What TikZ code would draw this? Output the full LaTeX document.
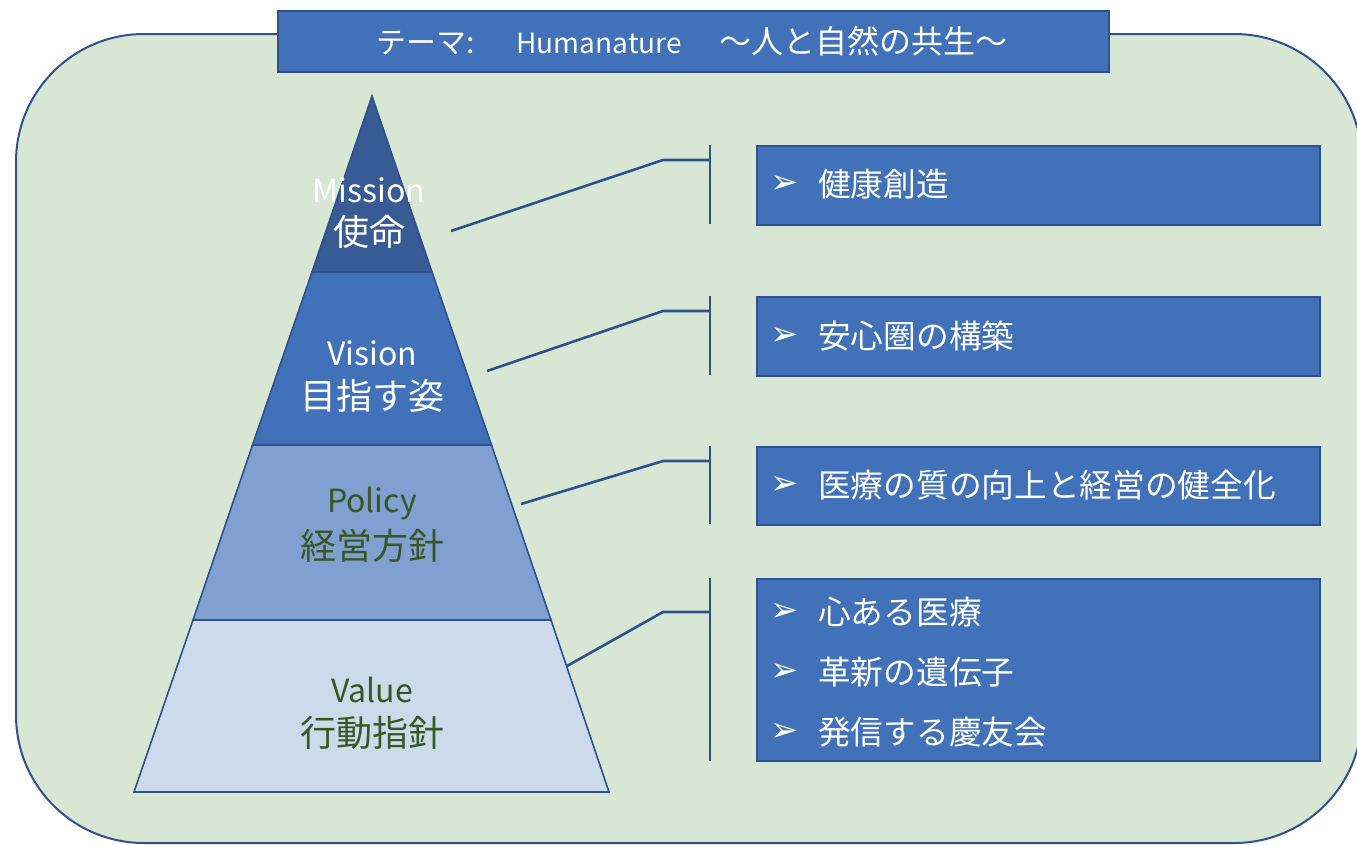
\documentclass[tikz,border=0pt]{standalone}
\usepackage{fontspec}
\setmainfont{Noto Sans CJK JP}
\newfontfamily\symfont{DejaVu Sans}
\definecolor{bgfill}{RGB}{216,231,211}
\definecolor{edge}{RGB}{47,82,143}
\definecolor{boxblue}{RGB}{64,113,185}
\definecolor{mission}{RGB}{56,91,150}
\definecolor{policy}{RGB}{128,160,209}
\definecolor{valuec}{RGB}{205,218,235}
\definecolor{darkgreen}{RGB}{56,87,35}
\newcommand{\jpl}{\fontsize{36}{40}\selectfont}
\newcommand{\lal}{\fontsize{32}{36}\selectfont}
\tikzset{
  lay/.style={draw=edge, line width=1.6pt, line join=miter},
  conn/.style={draw=edge, line width=2.6pt},
  bluebox/.style={draw=edge, line width=1.6pt, fill=boxblue},
  lbl/.style={inner sep=0pt},
  item/.style={inner sep=0pt, anchor=west, text=white, font=\fontsize{32.7}{36}\selectfont},
  bullet/.style={inner sep=0pt, text=white, font=\symfont\fontsize{34}{36}\selectfont},
}
\begin{document}
\begin{tikzpicture}[x=1pt,y=-1pt]
\useasboundingbox (0,0) rectangle (1357,844);
\begin{scope}
\clip (0,0) rectangle (1357,844);
\draw[fill=bgfill, draw=edge, line width=2pt, rounded corners=128pt] (16,34) rectangle (1362,843);
\end{scope}
% title
\node[bluebox, minimum width=831pt, minimum height=61pt, anchor=north west, inner sep=0pt] (title) at (277,10) {};
\node[text=white, inner sep=0pt, anchor=west, font=\fontsize{30}{32}\selectfont] (titletext) at (376,41) {テーマ:\hspace{42pt}{\fontsize{28}{32}\selectfont Humanature}\hspace{38pt}{\fontsize{32}{32}\selectfont ～人と自然の共生～}};
% pyramid
\coordinate (apex) at (372,96);
\coordinate (bl) at (134,792);
\coordinate (br) at (609,792);
\filldraw[lay, fill=valuec] (193,620) -- (551,620) -- (br) -- (bl) -- cycle;
\filldraw[lay, fill=policy] (252.5,445) -- (491.5,445) -- (551,620) -- (193,620) -- cycle;
\filldraw[lay, fill=boxblue] (312,272) -- (432,272) -- (491.5,445) -- (252.5,445) -- cycle;
\filldraw[lay, fill=mission] (apex) -- (432,272) -- (312,272) -- cycle;
% pyramid labels
\node[lbl, text=white, font=\lal] (mis1) at (369,190) {Mission};
\node[lbl, text=white, font=\jpl] (mis2) at (369,232) {使命};
\node[lbl, text=white, font=\lal] (vis1) at (372,353) {Vision};
\node[lbl, text=white, font=\jpl] (vis2) at (372,396) {目指す姿};
\node[lbl, text=darkgreen, font=\lal] (pol1) at (372,503) {Policy};
\node[lbl, text=darkgreen, font=\jpl] (pol2) at (372,546) {経営方針};
\node[lbl, text=darkgreen, font=\lal] (val1) at (372,690) {Value};
\node[lbl, text=darkgreen, font=\jpl] (val2) at (372,733) {行動指針};
% right boxes
\node[bluebox, anchor=north west, minimum width=563pt, minimum height=79pt, inner sep=0pt] (box1) at (756,145) {};
\node[bluebox, anchor=north west, minimum width=563pt, minimum height=79pt, inner sep=0pt] (box2) at (756,296) {};
\node[bluebox, anchor=north west, minimum width=563pt, minimum height=78pt, inner sep=0pt] (box3) at (756,446) {};
\node[bluebox, anchor=north west, minimum width=563pt, minimum height=182pt, inner sep=0pt] (box4) at (756,578) {};
\node[bullet] (b1) at (785,184) {➢};
\node[item] (t1) at (818,184) {健康創造};
\node[bullet] (b2) at (785,336) {➢};
\node[item] (t2) at (818,336) {安心圏の構築};
\node[bullet] (b3) at (785,485) {➢};
\node[item] (t3) at (818,485) {医療の質の向上と経営の健全化};
\node[bullet] (b4) at (785,612) {➢};
\node[item] (t4) at (818,612) {心ある医療};
\node[bullet] (b5) at (785,672) {➢};
\node[item] (t5) at (818,672) {革新の遺伝子};
\node[bullet] (b6) at (785,732) {➢};
\node[item] (t6) at (818,732) {発信する慶友会};
% connectors
\coordinate (m1) at (451,231); \coordinate (m2) at (663,160); \coordinate (m3) at (710,160);
\coordinate (mt) at (710,145); \coordinate (mb) at (710,224);
\coordinate (v1) at (487,371); \coordinate (v2) at (663,311); \coordinate (v3) at (710,311);
\coordinate (vt) at (710,296); \coordinate (vb) at (710,375);
\coordinate (p1) at (521,504); \coordinate (p2) at (663,461); \coordinate (p3) at (710,461);
\coordinate (pt) at (710,446); \coordinate (pb) at (710,524);
\coordinate (q1) at (567,666); \coordinate (q2) at (663,612); \coordinate (q3) at (710,612);
\coordinate (qt) at (710,578); \coordinate (qb) at (710,761);
\draw[conn] (m1) -- (m2) -- (m3); \draw[conn] (mt) -- (mb);
\draw[conn] (v1) -- (v2) -- (v3); \draw[conn] (vt) -- (vb);
\draw[conn] (p1) -- (p2) -- (p3); \draw[conn] (pt) -- (pb);
\draw[conn] (q1) -- (q2) -- (q3); \draw[conn] (qt) -- (qb);
\end{tikzpicture}
\end{document}
